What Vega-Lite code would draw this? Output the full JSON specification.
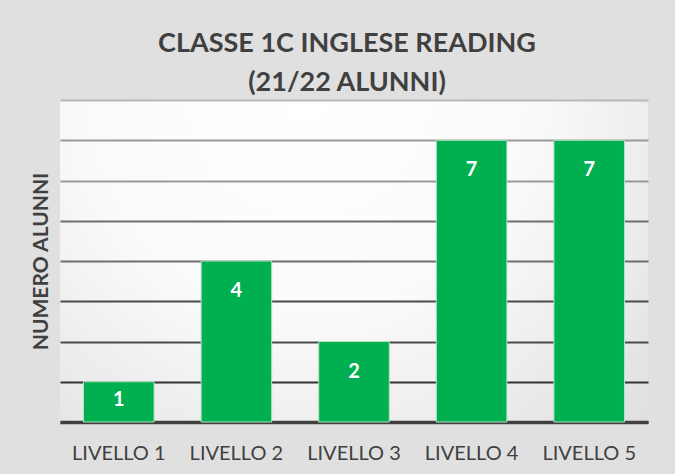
{
  "$schema": "https://vega.github.io/schema/vega-lite/v6.json",
  "width": 588,
  "height": 322,
  "autosize": {"type": "none"},
  "padding": {"left": 60, "top": 100, "right": 27, "bottom": 52},
  "background": "#e0e0e0",
  "title": {
    "text": ["CLASSE 1C INGLESE READING", "(21/22 ALUNNI)"],
    "font": "Lato",
    "fontSize": 27,
    "fontWeight": "bold",
    "color": "#404040",
    "lineHeight": 39,
    "anchor": "middle",
    "dx": -7,
    "offset": 3
  },
  "data": {
    "values": [
      {"livello": "LIVELLO 1", "n": 1},
      {"livello": "LIVELLO 2", "n": 4},
      {"livello": "LIVELLO 3", "n": 2},
      {"livello": "LIVELLO 4", "n": 7},
      {"livello": "LIVELLO 5", "n": 7}
    ]
  },
  "encoding": {
    "x": {
      "field": "livello",
      "type": "nominal",
      "sort": null,
      "scale": {"paddingInner": 0.4, "paddingOuter": 0.2},
      "axis": {
        "title": null,
        "labelAngle": 0,
        "labelFont": "Lato",
        "labelFontSize": 20,
        "labelColor": "#404040",
        "labelPadding": 21,
        "ticks": false,
        "domainColor": "#404040",
        "domainWidth": 3.5
      }
    },
    "y": {
      "field": "n",
      "type": "quantitative",
      "scale": {"domain": [0, 8]},
      "axis": {
        "title": "NUMERO ALUNNI",
        "titleFont": "Lato",
        "titleFontSize": 21,
        "titleFontWeight": "bold",
        "titleColor": "#404040",
        "titlePadding": 9,
        "labels": false,
        "ticks": false,
        "domain": false,
        "tickCount": 8,
        "grid": true,
        "gridWidth": 2,
        "gridColor": {
          "condition": [
            {"test": "datum.value >= 8", "value": "#b8b8b8"},
            {"test": "datum.value >= 6", "value": "#999999"},
            {"test": "datum.value >= 4", "value": "#6e6e6e"},
            {"test": "datum.value >= 2", "value": "#4a4a4a"}
          ],
          "value": "#333333"
        }
      }
    }
  },
  "layer": [
    {
      "mark": {"type": "bar", "color": "#00b050", "stroke": "#b5e3c2", "strokeWidth": 1}
    },
    {
      "mark": {
        "type": "text",
        "color": "white",
        "font": "Lato",
        "fontSize": 20,
        "fontWeight": "bold",
        "baseline": "top",
        "dy": {"expr": "datum.n > 1 ? 20 : 8"}
      },
      "encoding": {"text": {"field": "n", "type": "quantitative"}}
    }
  ],
  "config": {
    "view": {
      "stroke": null,
      "fill": {
        "gradient": "radial",
        "x1": 0.42, "y1": 0.22, "r1": 0,
        "x2": 0.42, "y2": 0.22, "r2": 0.85,
        "stops": [
          {"offset": 0, "color": "#ffffff"},
          {"offset": 0.45, "color": "#fafafa"},
          {"offset": 1, "color": "#dcdcdc"}
        ]
      }
    }
  }
}
